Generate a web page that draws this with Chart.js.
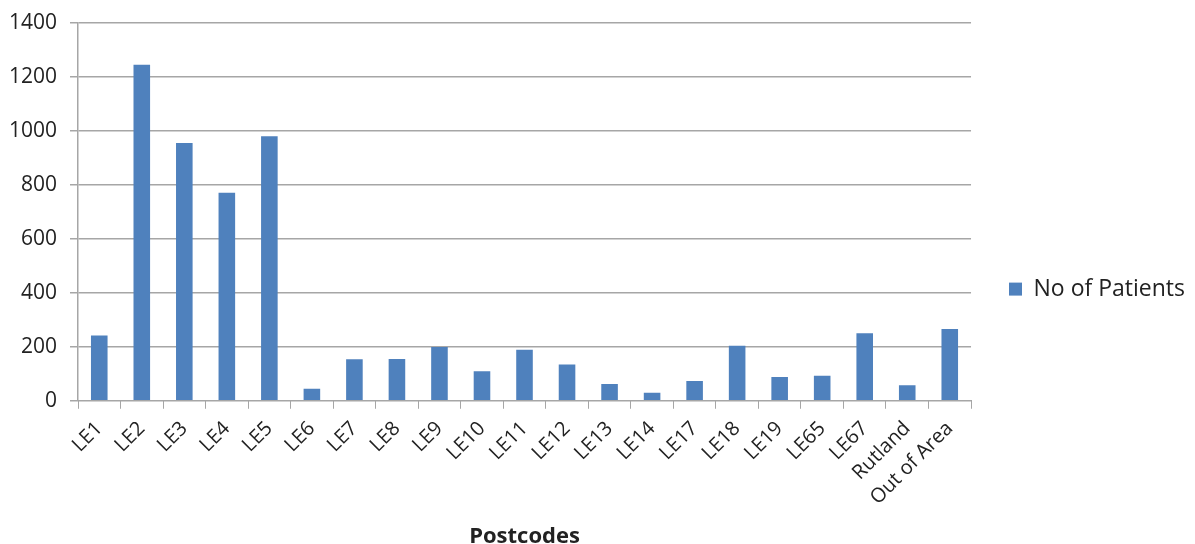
<!DOCTYPE html>
<html lang="en">
<head>
    <meta charset="UTF-8">
    <title>No of Patients by Postcode</title>
    <script src="https://cdn.jsdelivr.net/npm/chart.js"></script>
    <style>
        html, body { margin: 0; padding: 0; background: #fff; }
        .chart-container {
            position: relative;
            width: 1195px;
            height: 544px;
        }
    </style>
</head>
<body>

<div class="chart-container">
    <canvas id="patientsChart"></canvas>
</div>

<script>
// Data
const postcodes = ['LE1', 'LE2', 'LE3', 'LE4', 'LE5', 'LE6', 'LE7', 'LE8', 'LE9', 'LE10', 'LE11',
    'LE12', 'LE13', 'LE14', 'LE17', 'LE18', 'LE19', 'LE65', 'LE67', 'Rutland', 'Out of Area'];
const patients = [242, 1245, 955, 771, 980, 45, 154, 155, 199, 109, 189,
    134, 62, 30, 73, 204, 88, 93, 250, 58, 266];
const seriesName = 'No of Patients';
const axisTitle = 'Postcodes';

const fontFamily = '"Open Sans", "Noto Sans", sans-serif';
const gridColor = '#a6a6a6';

const ctx = document.getElementById('patientsChart').getContext('2d');

new Chart(ctx, {
    type: 'bar',
    data: {
        labels: postcodes,
        datasets: [{
            label: seriesName,
            data: patients,
            backgroundColor: '#4f81bd',
            borderWidth: 0,
            barPercentage: 0.39,
            categoryPercentage: 1
        }]
    },
    options: {
        responsive: true,
        maintainAspectRatio: false,
        animation: false,
        layout: {
            padding: { top: 7, left: 8, right: 0, bottom: -6 }
        },
        plugins: {
            tooltip: { enabled: false },
            legend: {
                position: 'right',
                // empty title only pushes the legend item down a little
                title: {
                    display: true,
                    text: '',
                    font: { size: 1 },
                    padding: { top: 10, bottom: 10 }
                },
                labels: {
                    boxWidth: 13,
                    boxHeight: 13,
                    padding: 38,
                    color: '#222',
                    font: { family: fontFamily, size: 23 }
                }
            }
        },
        scales: {
            x: {
                offset: true,
                grid: {
                    offset: true,
                    drawOnChartArea: false,
                    drawTicks: true,
                    tickLength: 8,
                    color: gridColor
                },
                border: { color: gridColor },
                ticks: {
                    minRotation: 45,
                    maxRotation: 45,
                    autoSkip: false,
                    padding: 8,
                    color: '#222',
                    font: { family: fontFamily, size: 20 }
                },
                title: {
                    display: true,
                    text: axisTitle,
                    color: '#222',
                    padding: { top: 6, bottom: 0 },
                    font: { family: fontFamily, size: 22, weight: 'bold' }
                },
                afterFit: (scale) => {
                    scale.paddingLeft = 0;
                    scale.paddingRight = 0;
                }
            },
            y: {
                min: 0,
                max: 1400,
                grid: {
                    color: gridColor,
                    lineWidth: 1.5,
                    tickLength: 8
                },
                border: { color: gridColor, width: 1.5 },
                ticks: {
                    stepSize: 200,
                    padding: 13,
                    color: '#222',
                    font: { family: fontFamily, size: 21 },
                    callback: (value) => String(value)
                },
                afterFit: (scale) => {
                    scale.width = 70;
                    scale.paddingTop = 23;
                    scale.paddingBottom = 0;
                }
            }
        }
    }
});
</script>
</body>
</html>
